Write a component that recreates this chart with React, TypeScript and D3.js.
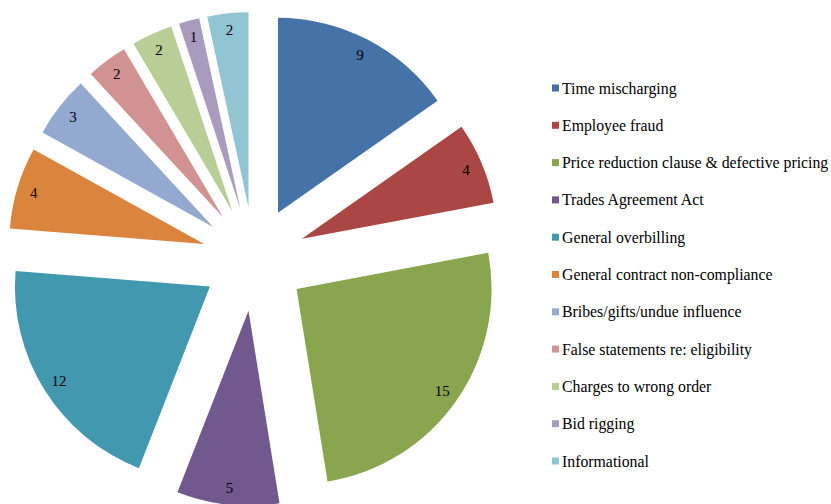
import * as d3 from "d3";
import { useEffect, useRef } from "react";

const categories = [
  "Time mischarging",
  "Employee fraud",
  "Price reduction clause & defective pricing",
  "Trades Agreement Act",
  "General overbilling",
  "General contract non-compliance",
  "Bribes/gifts/undue influence",
  "False statements re: eligibility",
  "Charges to wrong order",
  "Bid rigging",
  "Informational",
];
const values = [9, 4, 15, 5, 12, 4, 3, 2, 2, 1, 2];
const colors = [
  "#4572a7", "#aa4643", "#89a54e", "#71588f", "#4198af", "#db843d",
  "#93a9cf", "#d19392", "#b9cd96", "#a99bbd", "#92c5d4",
];

const W = 831;
const H = 504;

const App = () => {
  const ref = useRef<SVGSVGElement>(null);

  useEffect(() => {
    const svg = d3.select(ref.current);
    svg.selectAll("*").remove();

    const cx = 254, cy = 259, r = 195, explode = 52, labelR = 178;

    const pie = d3.pie<number>().sort(null).value((d) => d);
    const arcs = pie(values);
    const arc = d3.arc<d3.PieArcDatum<number>>().innerRadius(0).outerRadius(r);

    const g = svg.append("g").attr("transform", `translate(${cx},${cy})`);
    const slices = g
      .selectAll("g.slice")
      .data(arcs)
      .join("g")
      .attr("class", "slice")
      .attr("transform", (d) => {
        const a = (d.startAngle + d.endAngle) / 2;
        return `translate(${explode * Math.sin(a)},${-explode * Math.cos(a)})`;
      });

    slices
      .append("path")
      .attr("d", arc)
      .attr("fill", (_, i) => colors[i]);

    slices
      .append("text")
      .attr("x", (d) => labelR * Math.sin((d.startAngle + d.endAngle) / 2))
      .attr("y", (d) => -labelR * Math.cos((d.startAngle + d.endAngle) / 2))
      .attr("text-anchor", "middle")
      .attr("dominant-baseline", "central")
      .attr("font-size", 15)
      .attr("fill", "#000")
      .text((d) => d.value);

    const legendY = d3.scalePoint<string>().domain(categories).range([88, 461]);
    const legend = svg
      .append("g")
      .selectAll("g")
      .data(categories)
      .join("g")
      .attr("transform", (d) => `translate(552,${legendY(d)})`);
    legend
      .append("rect")
      .attr("x", 0)
      .attr("y", -3.5)
      .attr("width", 7)
      .attr("height", 7)
      .attr("fill", (_, i) => colors[i]);
    legend
      .append("text")
      .attr("x", 10)
      .attr("y", 0)
      .attr("dominant-baseline", "central")
      .attr("font-size", 15.8)
      .attr("fill", "#000")
      .text((d) => d);
  }, []);

  return (
    <svg
      ref={ref}
      width={W}
      height={H}
      style={{
        position: "absolute",
        left: 0,
        top: 0,
        background: "#fff",
        fontFamily: '"Liberation Serif", "Times New Roman", Times, serif',
      }}
    />
  );
};

export default App;
